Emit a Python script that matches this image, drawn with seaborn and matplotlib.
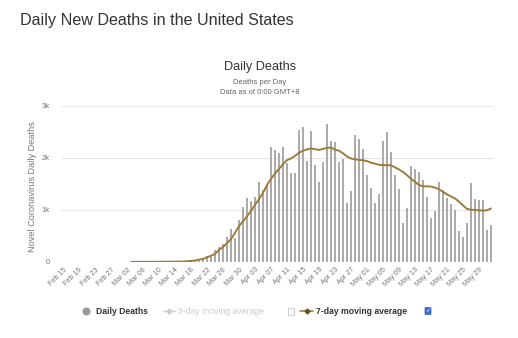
import matplotlib
matplotlib.use("Agg")
import matplotlib.pyplot as plt
import seaborn as sns
import numpy as np
import pandas as pd
from matplotlib.lines import Line2D
from matplotlib.patches import Rectangle, FancyBboxPatch

# ---------------- data ----------------
start_date = "2020-02-15"
end_date = "2020-06-01"

deaths_feb = [0] * 14 + [1]  # Feb 15 - Feb 29
deaths_mar = [1, 1, 4, 2, 3, 1, 3, 4, 3, 5, 7, 7, 10, 7, 12, 9, 23,
              32, 40, 55, 60, 110,
              120, 235, 288, 340, 486, 630, 454, 806, 1062]
deaths_apr = [1222, 1165, 1241, 1542, 1382, 1460, 2210, 2150, 2095, 2210,
              1900, 1714, 1714, 2534, 2598, 1950, 2521, 1862, 1542, 1926,
              2662, 2320, 2310, 1926, 1990, 1126, 1360, 2445, 2358, 2182]
deaths_may = [1670, 1414, 1126, 1300, 2335, 2502, 2118, 1670, 1400, 742,
              1030, 1843, 1798, 1734, 1574, 1250, 838, 990, 1530, 1390,
              1240, 1110, 1005, 590, 486, 750, 1510, 1203, 1200, 1195, 610]
deaths_jun = [705]

avg_start = "2020-03-03"
avg_mar = [2, 2, 2, 3, 3, 3, 4, 4, 5, 5, 6, 7, 8, 10, 13,
           20, 30, 45, 60, 90, 120, 155, 230, 290, 360, 440, 560, 690, 780]
avg_apr = [880, 980, 1100, 1210, 1330, 1480, 1600, 1700, 1790, 1880,
           1960, 1990, 2040, 2100, 2140, 2165, 2182, 2170, 2155, 2175,
           2195, 2200, 2160, 2140, 2090, 2030, 1990, 1975, 1965, 1955]
avg_may = [1940, 1910, 1890, 1870, 1862, 1862, 1860, 1820, 1780, 1730,
           1670, 1600, 1542, 1480, 1455, 1455, 1452, 1430, 1400, 1350,
           1300, 1260, 1222, 1160, 1090, 1020, 1005, 1000, 995, 988, 995]
avg_jun = [1030]

y_ticks = [0, 1000, 2000, 3000]
y_tick_labels = ["0", "1k", "2k", "3k"]
label_every = 4

# ---------------- build frame ----------------
dates = pd.date_range(start_date, end_date, freq="D")
deaths = deaths_feb + deaths_mar + deaths_apr + deaths_may + deaths_jun
avg_dates = pd.date_range(avg_start, end_date, freq="D")
avg_vals = avg_mar + avg_apr + avg_may + avg_jun

df = pd.DataFrame({"date": dates, "deaths": deaths})
df["idx"] = np.arange(len(df))
avg_s = pd.Series(avg_vals, index=avg_dates)
df["avg"] = df["date"].map(avg_s)

# ---------------- style ----------------
sns.set_theme(style="white")
plt.rcParams["font.family"] = ["Liberation Sans", "DejaVu Sans"]

W, H = 518, 338
fig = plt.figure(figsize=(W / 100, H / 100), dpi=100)
ax = fig.add_axes([61 / W, 1 - 262 / H, (493 - 61) / W, (262 - 106) / H])

bar_color = "#ababab"
line_color = "#a07a3a"

sns.barplot(data=df, x="idx", y="deaths", color=bar_color, saturation=1,
            width=0.55, linewidth=0, ax=ax)
line_df = df.dropna(subset=["avg"])
sns.lineplot(x=line_df["idx"].astype(float), y=line_df["avg"], color=line_color,
             linewidth=1.4, ax=ax)

ax.set_xlim(-0.5, len(df) - 0.5)
ax.set_ylim(0, 3000)
ax.set_yticks(y_ticks)
ax.set_yticklabels(y_tick_labels)
ax.yaxis.grid(True, color="#e6e6e6", linewidth=0.8)
ax.xaxis.grid(False)
ax.set_axisbelow(True)
for s in ax.spines.values():
    s.set_visible(False)

tick_pos = list(range(0, len(df), label_every))
ax.set_xticks(tick_pos)
ax.set_xticklabels([dates[i].strftime("%b %d") for i in tick_pos],
                   rotation=45, ha="right", rotation_mode="anchor")
ax.tick_params(axis="x", length=0, pad=3, labelsize=5.2, labelcolor="#777")
ax.tick_params(axis="y", length=0, pad=8, labelsize=5.5, labelcolor="#777")
ax.set_xlabel("")
ax.set_ylabel("")

# ---------------- texts ----------------
fig.text(20 / W, 1 - 21 / H, "Daily New Deaths in the United States",
         fontsize=11.6, color="#333333", ha="left", va="center")
fig.text(260 / W, 1 - 67 / H, "Daily Deaths", fontsize=9.2,
         color="#333333", ha="center", va="center")
fig.text(260 / W, 1 - 83 / H, "Deaths per Day", fontsize=5.5,
         color="#666666", ha="center", va="center")
fig.text(260 / W, 1 - 93 / H, "Data as of 0:00 GMT+8", fontsize=5.5,
         color="#666666", ha="center", va="center")
fig.text(33 / W, 1 - 187 / H, "Novel Coronavirus Daily Deaths", fontsize=6.6,
         color="#777777", ha="center", va="center", rotation=90)

# ---------------- legend ----------------
ly = 1 - 311 / H
tf = fig.transFigure
fig.add_artist(Line2D([86 / W], [ly], marker="o", markersize=4.8,
                      color="#999999", linestyle="none", transform=tf))
fig.text(96 / W, ly, "Daily Deaths", fontsize=6.2, fontweight="bold",
         color="#333333", ha="left", va="center")

fig.add_artist(Line2D([163 / W, 175 / W], [ly, ly], color="#cccccc",
                      linewidth=1, transform=tf))
fig.add_artist(Line2D([169 / W], [ly], marker="D", markersize=2.5,
                      color="#cccccc", linestyle="none", transform=tf))
fig.text(178 / W, ly, "3-day moving average", fontsize=6.2,
         color="#cccccc", ha="left", va="center")
fig.add_artist(Rectangle((288 / W, ly - 3.5 / H), 6 / W, 7 / H, transform=tf,
                         facecolor="white", edgecolor="#bbbbbb", linewidth=0.5))

fig.add_artist(Line2D([300 / W, 313 / W], [ly, ly], color=line_color,
                      linewidth=1.2, transform=tf))
fig.add_artist(Line2D([306.5 / W], [ly], marker="D", markersize=2.5,
                      color="#6b5320", linestyle="none", transform=tf))
fig.text(316 / W, ly, "7-day moving average", fontsize=6.2, fontweight="bold",
         color="#333333", ha="left", va="center")
fig.add_artist(FancyBboxPatch((425 / W, ly - 3.5 / H), 6 / W, 7 / H,
                              boxstyle="round,pad=0,rounding_size=0.002",
                              transform=tf, facecolor="#3d6fd6",
                              edgecolor="#2f5bb5", linewidth=0.5))
fig.text(428 / W, ly, "\u2713", fontsize=4.5, color="white",
         ha="center", va="center", family=["DejaVu Sans"])

fig.savefig("out.png", dpi=100, facecolor="white")
